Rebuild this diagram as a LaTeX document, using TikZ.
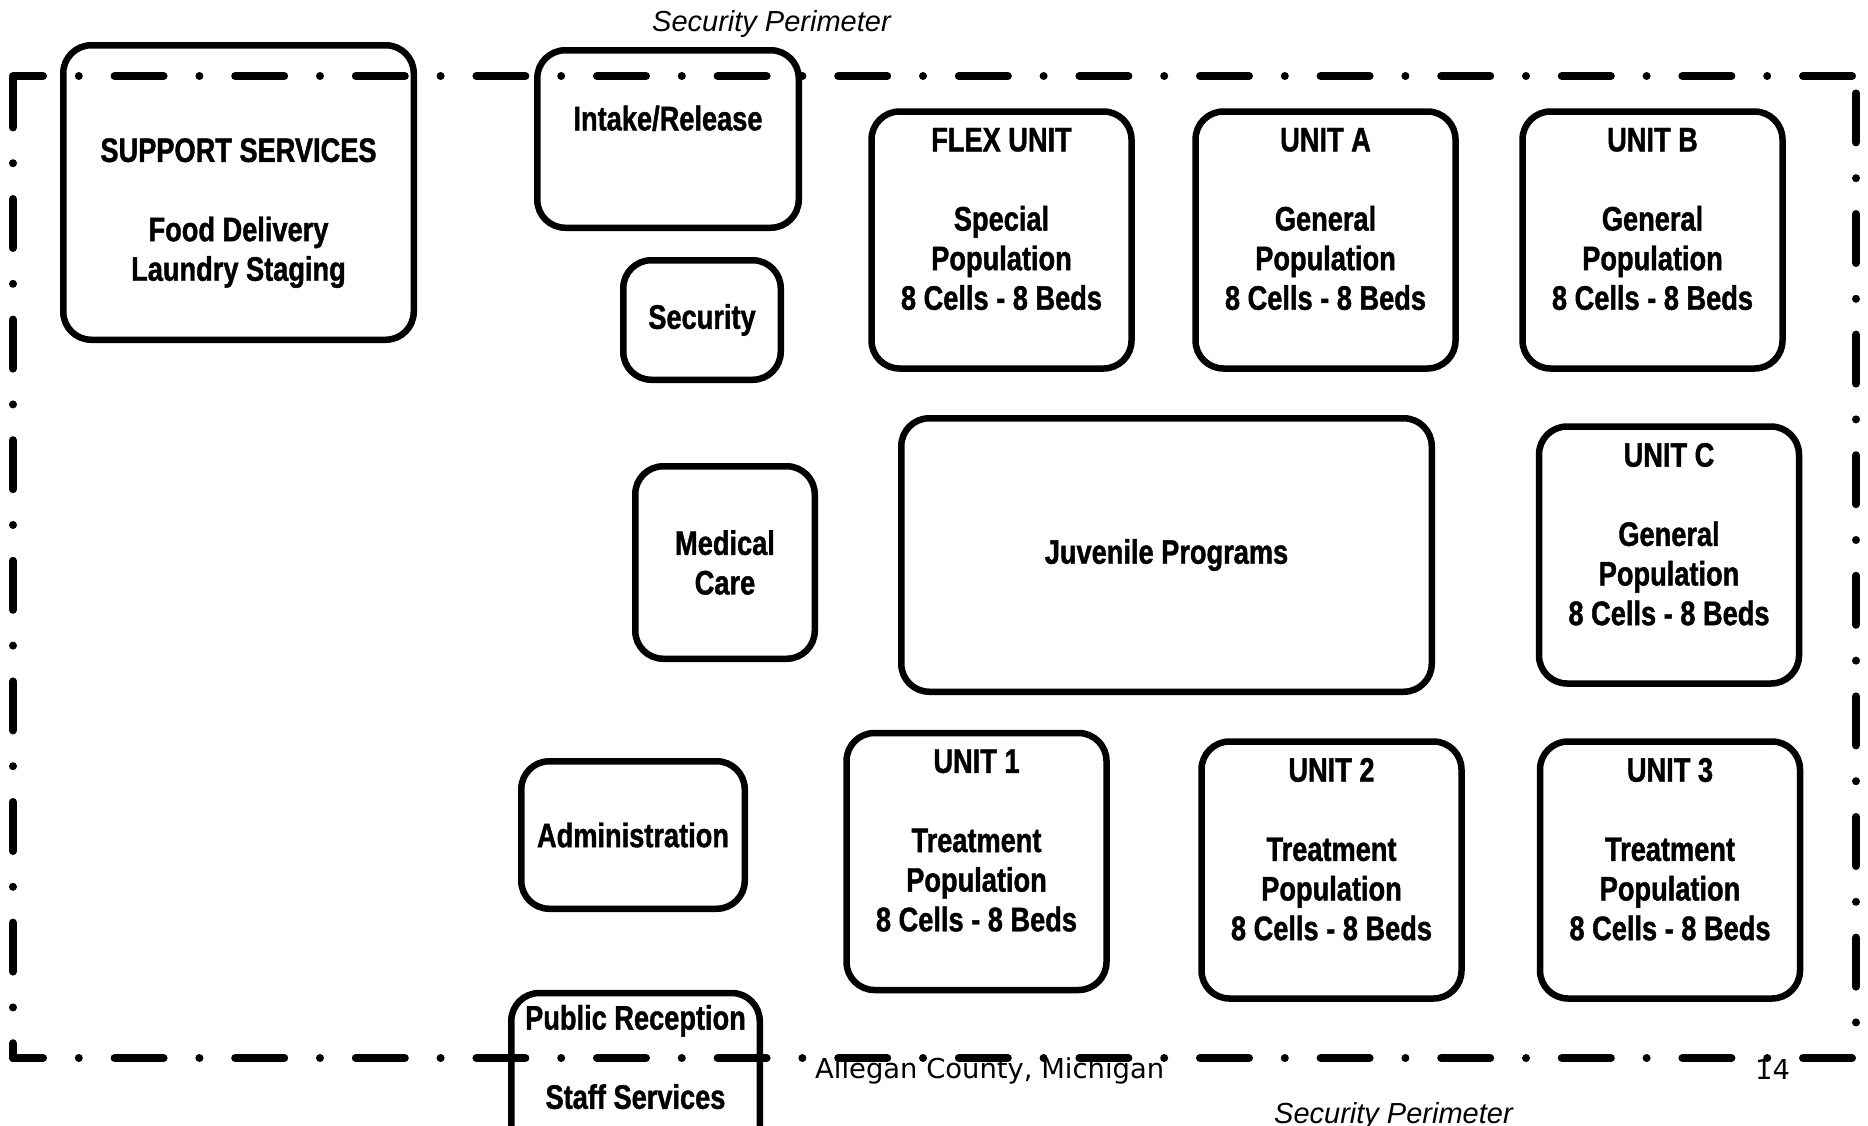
\documentclass[tikz,border=0pt]{standalone}
\usepackage{fontspec}
\setmainfont{Liberation Sans}
\newfontfamily\roomfont{Liberation Sans}[FakeStretch=0.8, FakeBold=1.2]
\newfontfamily\footfont{DejaVu Sans}
\usetikzlibrary{positioning}
\tikzset{
    room/.style = {draw=black, line width=6.5pt, rounded corners=28pt, align=center, inner sep=0pt,
        font=\roomfont\bfseries\fontsize{34}{39.6}\selectfont},
    unit/.style = {room, minimum width=260pt, minimum height=257pt},
    roomtext/.style = {align=center, inner sep=0pt, font=\roomfont\bfseries\fontsize{34}{39.6}\selectfont},
    perimeter/.style = {line width=8pt, line cap=round, dash pattern=on 49pt off 35.8pt on 0pt off 35.8pt},
    perimlabel/.style = {inner sep=0pt, anchor=base west, font=\itshape\fontsize{29}{34}\selectfont},
    footer/.style = {inner sep=0pt, anchor=base west, font=\footfont\fontsize{27.4}{32}\selectfont}
}

\begin{document}
\begin{tikzpicture}[x=1pt, y=-1pt]
    \clip (0,0) rectangle (1868,1125);

    % left wing
    \node[room, minimum width=350.5pt, minimum height=294.5pt] (support) at (238.5,192.5) {};
    \node[roomtext, below=96pt of support.north] (support-t) {SUPPORT SERVICES\\ \\Food Delivery\\Laundry Staging};
    \node[room, minimum width=261.5pt, minimum height=177.5pt] (intake) at (668,139) {};
    \node[roomtext, below=58.5pt of intake.north] (intake-t) {Intake/Release};
    \node[room, minimum width=157.5pt, minimum height=119.5pt] (security) at (702,320) {Security};
    \node[room, minimum width=179.5pt, minimum height=192.5pt] (medical) at (725,562.5) {Medical\\Care};
    \node[room, minimum width=223.5pt, minimum height=147.5pt] (admin) at (633,835) {Administration};
    \node[room, minimum width=248.5pt, minimum height=200pt] (public) at (635.5,1093) {};
    \node[roomtext, below=15pt of public.north] (public-t) {Public Reception\\ \\Staff Services};

    % core
    \node[room, minimum width=530.5pt, minimum height=273.5pt] (juvenile) at (1166.5,555) {Juvenile Programs};

    % housing units
    \node[unit] (flex) at (1001.5,240) {};
    \node[roomtext, below=19.5pt of flex.north] (flex-t) {FLEX UNIT\\ \\Special\\Population\\8 Cells - 8 Beds};
    \node[unit] (unitA) at (1325.5,240) {};
    \node[roomtext, below=19.5pt of unitA.north] (unitA-t) {UNIT A\\ \\General\\Population\\8 Cells - 8 Beds};
    \node[unit] (unitB) at (1652.5,240) {};
    \node[roomtext, below=19.5pt of unitB.north] (unitB-t) {UNIT B\\ \\General\\Population\\8 Cells - 8 Beds};
    \node[unit] (unitC) at (1669,555) {};
    \node[roomtext, below=19.5pt of unitC.north] (unitC-t) {UNIT C\\ \\General\\Population\\8 Cells - 8 Beds};
    \node[unit] (unit1) at (976.5,861.5) {};
    \node[roomtext, below=19.5pt of unit1.north] (unit1-t) {UNIT 1\\ \\Treatment\\Population\\8 Cells - 8 Beds};
    \node[unit] (unit2) at (1331.5,870) {};
    \node[roomtext, below=19.5pt of unit2.north] (unit2-t) {UNIT 2\\ \\Treatment\\Population\\8 Cells - 8 Beds};
    \node[unit] (unit3) at (1670,870) {};
    \node[roomtext, below=19.5pt of unit3.north] (unit3-t) {UNIT 3\\ \\Treatment\\Population\\8 Cells - 8 Beds};

    % footer
    \node[footer] (county) at (815,1078.5) {Allegan County, Michigan};
    \node[footer] (page) at (1755,1079.5) {14};

    % security perimeter
    \coordinate (tl) at (13,76);
    \coordinate (tr) at (1856,76);
    \coordinate (bl) at (13,1058);
    \coordinate (br) at (1856,1058);
    \draw[perimeter, dash phase=19pt] (tl) -- (tr);
    \draw[perimeter, dash phase=19pt] (bl) -- (br);
    \draw[perimeter, dash phase=118.2pt] (tl) -- (bl);
    \draw[perimeter, dash phase=103.2pt] (tr) -- (br);
    \node[perimlabel] (perim-top) at (652,31) {Security Perimeter};
    \node[perimlabel] (perim-bot) at (1274,1123) {Security Perimeter};
\end{tikzpicture}
\end{document}
